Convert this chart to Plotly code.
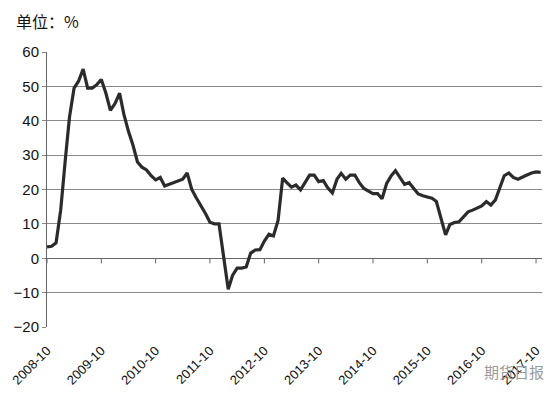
import plotly.graph_objects as go
import pandas as pd

months = pd.date_range("2008-10-01", "2017-11-01", freq="MS")
values = [
    3.3, 3.5, 4.5, 14.0, 28.6, 41.0, 49.5, 51.5, 55.0, 49.5,
    49.5, 50.5, 52.0, 48.0, 43.0, 45.0, 48.0, 42.0, 37.0, 33.0,
    28.0, 26.5, 25.7, 24.0, 22.8, 23.5, 21.0, 21.5, 22.0, 22.3,
    23.0, 24.8, 20.0, 17.6, 15.5, 13.0, 10.5, 10.0, 10.0, 0.5,
    -9.0, -5.0, -2.9, -2.9, -2.5, 1.5, 2.4, 2.5, 5.0, 7.0,
    6.5, 11.0, 23.3, 22.0, 20.7, 21.3, 19.9, 22.0, 24.2, 24.2,
    22.3, 22.6, 20.5, 19.0, 23.0, 24.7, 23.0, 24.2, 24.2, 22.0,
    20.3, 19.5, 18.8, 18.8, 17.3, 21.8, 24.0, 25.5, 23.5, 21.5,
    22.0, 20.5, 18.7, 18.2, 17.8, 17.5, 16.5, 12.0, 6.8, 9.8,
    10.4, 10.6, 12.0, 13.5, 14.0, 14.6, 15.2, 16.5, 15.5, 17.0,
    20.8, 24.0, 24.8, 23.5, 23.0, 23.7, 24.2, 24.8, 25.1, 25.0,
]
tick_dates = pd.date_range("2008-10-01", "2017-10-01", freq="12MS")
tick_labels = [d.strftime("%Y-%m") for d in tick_dates]
y_ticks = [-20, -10, 0, 10, 20, 30, 40, 50, 60]

x_range = ["2008-10-01", "2017-11-10"]

# page has an 8px body margin; figure size compensates
W, H = 549, 388
ML, MR, MT, MB = 39, 15, 44, 69
plot_w = W - ML - MR
plot_h = H - MT - MB
OFF = 8


def px(page_x):
    return (page_x - OFF - ML) / plot_w


def py(page_y):
    return (H - MB - (page_y - OFF)) / plot_h


fig = go.Figure()
# small tick marks hanging below the zero line
fig.add_trace(go.Scatter(
    x=tick_dates, y=[0] * len(tick_dates), mode="markers",
    marker=dict(size=1, color="rgba(0,0,0,0)"),
    error_y=dict(type="data", symmetric=False, array=[0] * len(tick_dates),
                 arrayminus=[1.5] * len(tick_dates), width=0, color="#666", thickness=1),
    showlegend=False, hoverinfo="skip",
))
fig.add_trace(go.Scatter(
    x=months, y=values, mode="lines",
    line=dict(color="#2b2b2b", width=3.2), showlegend=False, hoverinfo="skip",
))

fig.update_layout(
    width=W, height=H,
    margin=dict(l=ML, r=MR, t=MT, b=MB, autoexpand=False),
    paper_bgcolor="white", plot_bgcolor="white",
    font=dict(family="Liberation Sans, Arial, sans-serif", color="#111"),
    xaxis=dict(
        type="date", range=x_range, automargin=False,
        tickvals=tick_dates, ticktext=tick_labels, tickangle=-45,
        tickfont=dict(size=13, color="#111"), ticklabeloverflow="allow",
        showgrid=False, zeroline=False, showline=False,
        ticks="outside", ticklen=10, tickcolor="rgba(0,0,0,0)",
    ),
    yaxis=dict(
        range=[-20, 60], tickvals=y_ticks, automargin=False,
        tickfont=dict(size=15, color="#111"),
        showgrid=True, gridcolor="#8a8a8a", gridwidth=1,
        zeroline=True, zerolinecolor="#666", zerolinewidth=1,
        showline=True, linecolor="#666", linewidth=1,
        ticks="outside", ticklen=4, tickcolor="#8a8a8a",
    ),
    annotations=[
        dict(text="单位：%", x=px(14), y=py(21),
             xref="paper", yref="paper",
             showarrow=False, font=dict(size=16, family="Noto Sans CJK SC", color="#111"),
             xanchor="left", yanchor="middle"),
        dict(text="期货日报", x=px(514), y=py(371),
             xref="paper", yref="paper", showarrow=False,
             xanchor="center", yanchor="middle",
             font=dict(size=15, family="Noto Sans CJK SC", color="#9a9a9a")),
    ],
)

fig.write_html("out.html")
